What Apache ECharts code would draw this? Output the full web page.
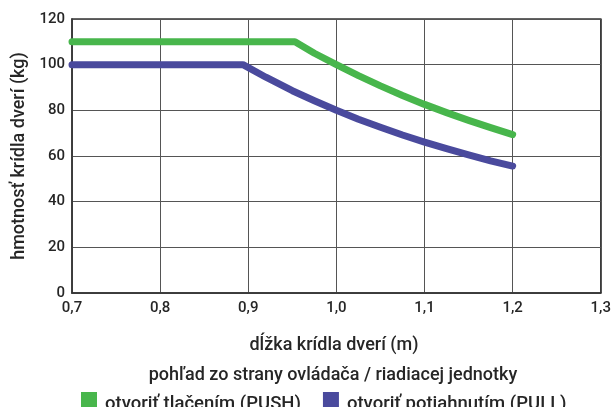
<!DOCTYPE html>
<html><head><meta charset="utf-8">
<script src="https://cdn.jsdelivr.net/npm/echarts@6/dist/echarts.min.js"></script>
<style>html,body{margin:0;padding:0;background:#fff}#c{width:614px;height:407px}</style>
</head><body><div id="c"></div>
<script>
const pushName = 'otvoriť tlačením (PUSH)';
const pullName = 'otvoriť potiahnutím (PULL)';
const pushX = [0.7, 0.953, 0.975, 1.0, 1.025, 1.05, 1.075, 1.1, 1.125, 1.15, 1.175, 1.2];
const pushY = [110, 110, 105, 100, 95.2, 90.7, 86.5, 82.6, 79, 75.6, 72.4, 69.4];
const pullX = [0.7, 0.894, 0.92, 0.95, 0.975, 1.0, 1.025, 1.05, 1.075, 1.1, 1.125, 1.15, 1.175, 1.2];
const pullY = [100, 100, 94.5, 88.6, 84.2, 80, 76.1, 72.6, 69.2, 66.1, 63.2, 60.5, 57.9, 55.6];
const xTitle = 'dĺžka krídla dverí (m)';
const subTitle = 'pohľad zo strany ovládača / riadiacej jednotky';
const yTitle = 'hmotnosť krídla dverí (kg)';

const FONT = 'Roboto';
const TXT = '#262626';
const chart = echarts.init(document.getElementById('c'), null, {renderer: 'canvas'});
chart.setOption({
  animation: false,
  textStyle: {fontFamily: FONT},
  grid: {left: 72, right: 11, top: 19, bottom: 114, show: true, borderColor: '#333', borderWidth: 1.5},
  xAxis: {
    type: 'value', min: 0.7, max: 1.3, interval: 0.1,
    axisLine: {show: true, lineStyle: {color: '#333', width: 1.5}},
    axisTick: {show: false},
    splitLine: {show: true, lineStyle: {color: '#555', width: 1}},
    axisLabel: {color: TXT, fontSize: 15, fontWeight: 500, fontFamily: FONT, margin: 8,
      formatter: v => v.toFixed(1).replace('.', ',')}
  },
  yAxis: {
    type: 'value', min: 0, max: 120, interval: 20,
    axisLine: {show: true, lineStyle: {color: '#333', width: 1.5}},
    axisTick: {show: false},
    splitLine: {show: true, lineStyle: {color: '#555', width: 1}},
    axisLabel: {color: TXT, fontSize: 15, fontWeight: 500, fontFamily: FONT, margin: 7},
    name: yTitle, nameLocation: 'middle', nameGap: 44, nameRotate: 90,
    nameTextStyle: {color: TXT, fontSize: 18, fontWeight: 500, fontFamily: FONT}
  },
  title: [
    {text: xTitle, left: 329, top: 331, textAlign: 'center',
      textStyle: {color: TXT, fontSize: 18, fontWeight: 500, fontFamily: FONT}},
    {text: subTitle, left: 328, top: 361, textAlign: 'center',
      textStyle: {color: TXT, fontSize: 18, fontWeight: 500, fontFamily: FONT}}
  ],
  legend: {
    left: 81, top: 392, itemWidth: 16, itemHeight: 16, itemGap: 22, padding: 0,
    icon: 'rect',
    formatter: name => '{t|' + name + '}',
    textStyle: {color: TXT, fontSize: 18.5, fontWeight: 500, fontFamily: FONT,
      rich: {t: {color: TXT, fontSize: 18.5, fontWeight: 500, fontFamily: FONT, padding: [8, 0, 0, 3]}}},
    data: [pushName, pullName]
  },
  series: [
    {name: pushName, type: 'line', showSymbol: false, color: '#48b64c',
      lineStyle: {width: 7, cap: 'round', join: 'round'},
      data: pushX.map((x, i) => [x, pushY[i]])},
    {name: pullName, type: 'line', showSymbol: false, color: '#4a4a9d',
      lineStyle: {width: 7, cap: 'round', join: 'round'},
      data: pullX.map((x, i) => [x, pullY[i]])}
  ]
});
</script></body></html>
